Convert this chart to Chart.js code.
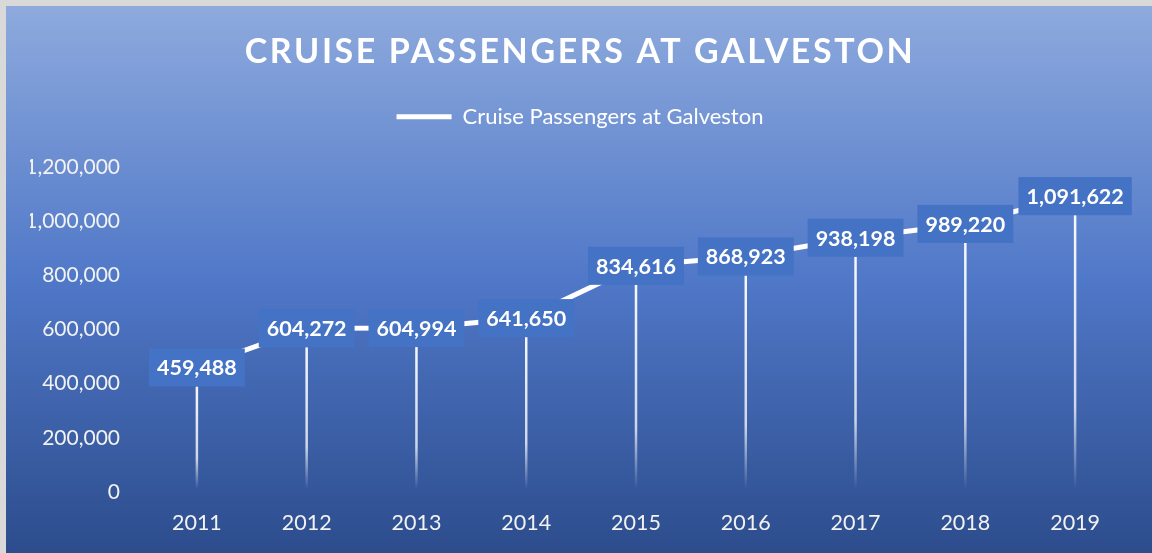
<!DOCTYPE html>
<html>
<head>
<meta charset="utf-8">
<title>Cruise Passengers at Galveston</title>
<script src="https://cdn.jsdelivr.net/npm/chart.js@4.4.1/dist/chart.umd.min.js"></script>
<style>
    html, body { margin: 0; padding: 0; background: #d9d9d9; overflow: hidden; }
    #wrap { position: absolute; left: 0; top: 0; width: 1152px; height: 553px; }
</style>
</head>
<body>
<div id="wrap"><canvas id="Chart"></canvas></div>
<script>
var years = ['2011', '2012', '2013', '2014', '2015', '2016', '2017', '2018', '2019'];
var passengers = [459488, 604272, 604994, 641650, 834616, 868923, 938198, 989220, 1091622];
var yMax = 1200000;
var yStep = 200000;

var chartTitle = 'CRUISE PASSENGERS AT GALVESTON';
var seriesName = 'Cruise Passengers at Galveston';

function fmt(v) {
    return Number(v).toLocaleString('en-US');
}

// gray frame + blue gradient fill behind everything
var backgroundPlugin = {
    id: 'background',
    beforeDraw: function(chart) {
        var ctx = chart.ctx;
        ctx.save();
        ctx.fillStyle = '#d9d9d9';
        ctx.fillRect(0, 0, chart.width, chart.height);
        var g = ctx.createLinearGradient(0, 6, 0, chart.height);
        g.addColorStop(0, '#8eaadd');
        g.addColorStop(0.5, '#5078c8');
        g.addColorStop(1, '#2c4c8c');
        ctx.fillStyle = g;
        ctx.fillRect(6, 6, chart.width - 6, chart.height - 6);
        ctx.restore();

        // spaced out title letters
        if (chart.titleBlock && !chart.titleBlock._spaced) {
            var orig = chart.titleBlock.draw;
            chart.titleBlock.draw = function() {
                this.ctx.save();
                this.ctx.letterSpacing = '2.6px';
                orig.apply(this, arguments);
                this.ctx.restore();
            };
            chart.titleBlock._spaced = true;
        }
    }
};

// drop lines under the series, value boxes on top of it
var labelPlugin = {
    id: 'valueBoxes',
    beforeDatasetsDraw: function(chart) {
        var ctx = chart.ctx;
        var meta = chart.getDatasetMeta(0);
        var bottom = chart.scales.y.getPixelForValue(0);
        ctx.save();
        for (var i = 0; i < meta.data.length; i++) {
            var p = meta.data[i];
            var top = p.y + 19;
            var g = ctx.createLinearGradient(0, top, 0, bottom - 3);
            g.addColorStop(0, 'rgba(255,255,255,0.95)');
            g.addColorStop(0.7, 'rgba(255,255,255,0.75)');
            g.addColorStop(1, 'rgba(255,255,255,0)');
            ctx.strokeStyle = g;
            ctx.lineWidth = 2.5;
            ctx.beginPath();
            ctx.moveTo(p.x, top);
            ctx.lineTo(p.x, bottom - 3);
            ctx.stroke();
        }
        ctx.restore();
    },
    afterDatasetsDraw: function(chart) {
        var ctx = chart.ctx;
        var meta = chart.getDatasetMeta(0);
        var values = chart.data.datasets[0].data;
        ctx.save();
        ctx.font = 'bold 21.5px Lato';
        ctx.textAlign = 'center';
        ctx.textBaseline = 'middle';
        for (var i = 0; i < meta.data.length; i++) {
            var p = meta.data[i];
            var txt = fmt(values[i]);
            var w = ctx.measureText(txt).width + 16;
            var h = 38;
            ctx.fillStyle = '#4472c4';
            ctx.fillRect(p.x - w / 2, p.y - h / 2, w, h);
            ctx.fillStyle = '#ffffff';
            ctx.fillText(txt, p.x, p.y + 1);
        }
        ctx.restore();
    }
};

var ctx = document.getElementById('Chart').getContext('2d');
var myChart = new Chart(ctx, {
    type: 'line',
    data: {
        labels: years,
        datasets: [{
            label: seriesName,
            data: passengers,
            borderColor: '#ffffff',
            backgroundColor: '#ffffff',
            borderWidth: 5,
            borderCapStyle: 'round',
            pointRadius: 0,
            pointHoverRadius: 0,
            tension: 0,
            fill: false
        }]
    },
    options: {
        responsive: true,
        maintainAspectRatio: false,
        animation: false,
        layout: {
            padding: { left: 30, top: 6, right: 22, bottom: 0 }
        },
        plugins: {
            title: {
                display: true,
                text: chartTitle,
                color: '#ffffff',
                font: { family: 'Lato', size: 34, weight: 'bold', lineHeight: 1.2 },
                padding: { top: 26, bottom: 8 }
            },
            subtitle: {
                display: true,
                text: '',
                weight: 500,
                font: { size: 1, lineHeight: 1 },
                padding: { top: 0, bottom: 28 }
            },
            legend: {
                display: true,
                position: 'top',
                labels: {
                    color: '#ffffff',
                    font: { family: 'Lato', size: 22 },
                    usePointStyle: true,
                    pointStyle: 'line',
                    pointStyleWidth: 55,
                    padding: 25
                }
            },
            tooltip: { enabled: false }
        },
        scales: {
            x: {
                offset: true,
                grid: { display: false, drawTicks: false },
                border: { display: false },
                ticks: {
                    color: '#f2f2f2',
                    font: { family: 'Lato', size: 21.5 },
                    padding: 18
                },
                afterFit: function(scale) { scale.height = 61; }
            },
            y: {
                min: 0,
                max: yMax,
                grid: { display: false, drawTicks: false },
                border: { display: false },
                ticks: {
                    stepSize: yStep,
                    color: '#f2f2f2',
                    font: { family: 'Lato', size: 21 },
                    padding: 22,
                    callback: function(v) { return fmt(v); }
                },
                afterFit: function(scale) { scale.width = 112; }
            }
        }
    },
    plugins: [backgroundPlugin, labelPlugin]
});
</script>
</body>
</html>
